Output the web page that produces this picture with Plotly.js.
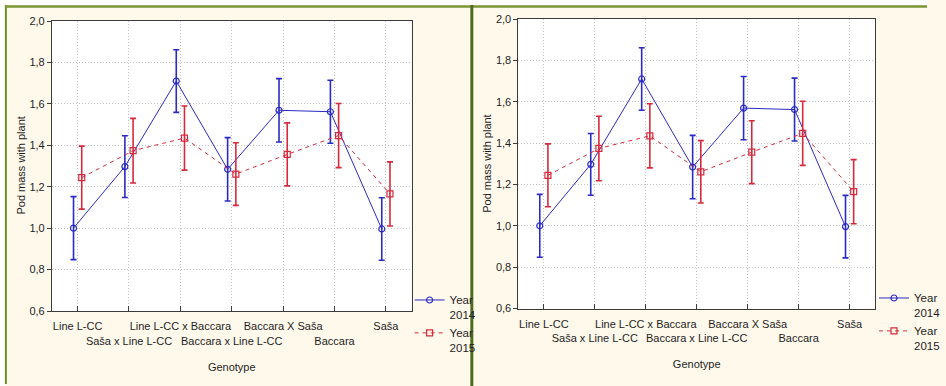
<!DOCTYPE html>
<html>
<head>
<meta charset="utf-8">
<script src="https://cdn.plot.ly/plotly-3.0.1.min.js"></script>
<style>html,body{margin:0;padding:0;background:#fff;}#chart{width:946px;height:386px;}</style>
</head>
<body>
<div id="chart"></div>
<script>
const categories = ['Line L-CC', 'Saša x Line L-CC', 'Line L-CC x Baccara', 'Baccara x Line L-CC', 'Baccara X Saša', 'Baccara', 'Saša'];
const mean2014 = [1.00, 1.297, 1.71, 1.284, 1.569, 1.562, 0.996];
const err2014 = [0.152, 0.149, 0.151, 0.153, 0.153, 0.152, 0.151];
const mean2015 = [1.244, 1.374, 1.435, 1.261, 1.356, 1.447, 1.165];
const err2015 = [0.152, 0.156, 0.155, 0.151, 0.152, 0.155, 0.155];
const yTicks = [0.6, 0.8, 1.0, 1.2, 1.4, 1.6, 1.8, 2.0];
const seriesNames = ['Year<br>2014', 'Year<br>2015'];
const yTitle = 'Pod mass with plant';
const xTitle = 'Genotype';

const W = 946, H = 386;
const FONT = '"Liberation Sans Narrow", "Arial Narrow", "Liberation Sans", Arial, sans-serif';
const FS = 11;
const TXT = '#1e1e1e';
const BLUE = '#2a2ac4';
const RED = '#d62a3c';
const idx = categories.map((c, i) => i);

function px(x) { return x / W; }
function py(y) { return 1 - y / H; }

const panels = [
  {x0: 53, x1: 420, y0: 21, y1: 311, legX: 418, legY: 286, yTitleX: 21},
  {x0: 529, x1: 893, y0: 19, y1: 308.5, legX: 892, legY: 284, yTitleX: 497}
];

const data = [];
const layout = {
  width: W, height: H,
  margin: {l: 0, r: 0, t: 0, b: 0},
  paper_bgcolor: '#fff9ec',
  plot_bgcolor: '#ffffff',
  separators: ', ',
  font: {family: FONT, size: FS, color: TXT},
  showlegend: true,
  shapes: [],
  annotations: []
};

panels.forEach((p, k) => {
  const n = k === 0 ? '' : String(k + 1);
  const xa = 'x' + n, ya = 'y' + n;
  const legName = k === 0 ? 'legend' : 'legend2';
  data.push({
    type: 'scatter', mode: 'lines+markers', name: seriesNames[0],
    x: idx.map(i => i - 0.08), y: mean2014,
    xaxis: xa, yaxis: ya, legend: legName,
    line: {color: BLUE, width: 1},
    marker: {symbol: 'circle-open', size: 6, color: BLUE, line: {width: 1.2, color: BLUE}},
    error_y: {type: 'data', array: err2014, visible: true, color: BLUE, thickness: 1.6, width: 3}
  });
  data.push({
    type: 'scatter', mode: 'lines+markers', name: seriesNames[1],
    x: idx.map(i => i + 0.08), y: mean2015,
    xaxis: xa, yaxis: ya, legend: legName,
    line: {color: RED, width: 1, dash: '4px,4px'},
    marker: {symbol: 'square-open', size: 6, color: RED, line: {width: 1.2, color: RED}},
    error_y: {type: 'data', array: err2015, visible: true, color: RED, thickness: 1.6, width: 3}
  });
  const common = {
    showline: true, linecolor: '#3c3c3c', linewidth: 1, mirror: true,
    gridcolor: '#c2c2c2', griddash: '1px,2px', gridwidth: 1, zeroline: false,
    tickfont: {family: FONT, size: FS, color: TXT}
  };
  layout['xaxis' + n] = Object.assign({}, common, {
    domain: [px(p.x0), px(p.x1)], anchor: ya, range: [-0.5, 6.5],
    tickmode: 'array', tickvals: idx, tickangle: 0,
    ticktext: idx.map(i => i % 2 === 0 ? categories[i] : '<br>' + categories[i]),
    ticks: 'inside', ticklen: 5, tickcolor: '#3c3c3c', ticklabelstandoff: 5,
    title: {text: xTitle, font: {family: FONT, size: FS, color: TXT}, standoff: 17}
  });
  layout['yaxis' + n] = Object.assign({}, common, {
    domain: [py(p.y1), py(p.y0)], anchor: xa, range: [0.6, 2.0],
    tickmode: 'array', tickvals: yTicks, tickformat: '.1f',
    ticks: 'outside', ticklen: 4, tickcolor: '#3c3c3c'
  });
  layout.annotations.push({
    xref: 'paper', yref: 'paper', x: px(p.yTitleX), y: py((p.y0 + p.y1) / 2),
    xanchor: 'center', yanchor: 'middle', textangle: -90, showarrow: false,
    text: yTitle, font: {family: FONT, size: FS, color: TXT}
  });
  layout[legName] = {
    x: px(p.legX), y: py(p.legY), xanchor: 'left', yanchor: 'top',
    bgcolor: 'rgba(0,0,0,0)', borderwidth: 0, valign: 'top',
    font: {family: FONT, size: 11.5, color: TXT}, tracegroupgap: 0
  };
});

// frame decoration: white outer strips and green borders
layout.shapes.push(
  {type: 'rect', xref: 'paper', yref: 'paper', x0: 0, x1: 1, y0: py(5), y1: 1, fillcolor: '#ffffff', line: {width: 0}, layer: 'below'},
  {type: 'rect', xref: 'paper', yref: 'paper', x0: 0, x1: px(5), y0: 0, y1: 1, fillcolor: '#ffffff', line: {width: 0}, layer: 'below'},
  {type: 'line', xref: 'paper', yref: 'paper', x0: px(6), x1: px(6), y0: py(384), y1: py(5), line: {color: '#6f8f2a', width: 2}},
  {type: 'line', xref: 'paper', yref: 'paper', x0: px(5), x1: 1, y0: py(6.5), y1: py(6.5), line: {color: '#7a9636', width: 2.5}},
  {type: 'line', xref: 'paper', yref: 'paper', x0: px(481.5), x1: px(481.5), y0: 0, y1: py(5), line: {color: '#4f6a22', width: 3}}
);

Plotly.newPlot('chart', data, layout, {displayModeBar: false, staticPlot: true});
</script>
</body>
</html>
